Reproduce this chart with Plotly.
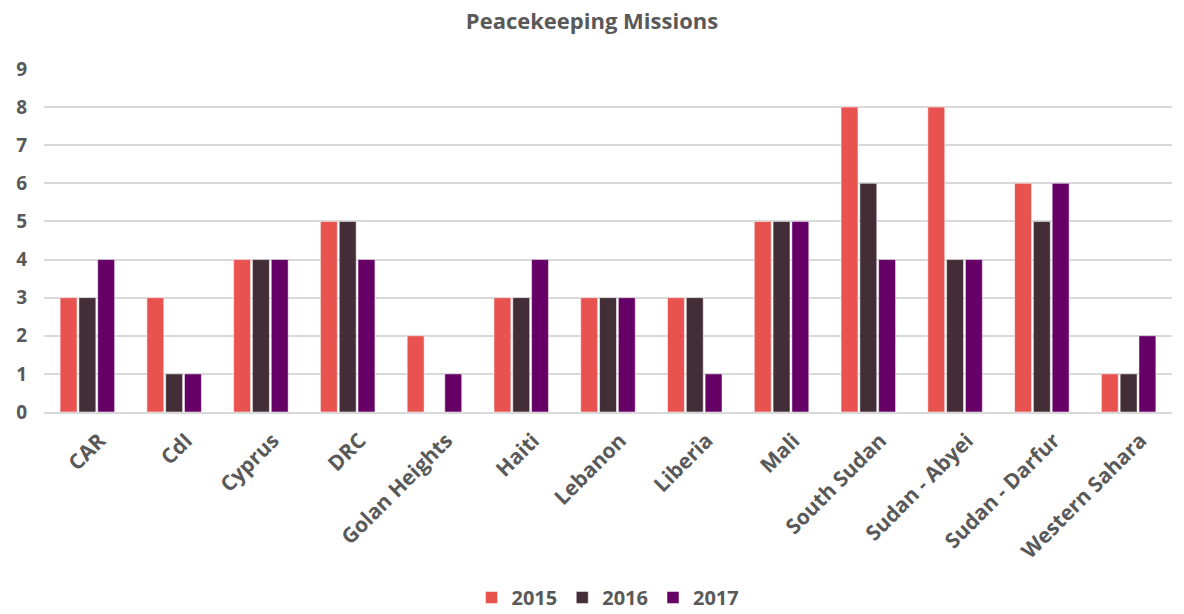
import plotly.graph_objects as go

categories = ["CAR", "CdI", "Cyprus", "DRC", "Golan Heights", "Haiti", "Lebanon",
              "Liberia", "Mali", "South Sudan", "Sudan - Abyei", "Sudan - Darfur",
              "Western Sahara"]
v2015 = [3, 3, 4, 5, 2, 3, 3, 3, 5, 8, 8, 6, 1]
v2016 = [3, 1, 4, 5, 0, 3, 3, 3, 5, 6, 4, 5, 1]
v2017 = [4, 1, 4, 4, 1, 4, 3, 1, 5, 4, 4, 6, 2]
series = [("2015", v2015, "#E8534F"), ("2016", v2016, "#432D36"), ("2017", v2017, "#660066")]

font = "Open Sans"
gray = "#595959"
fig = go.Figure()
for name, vals, col in series:
    fig.add_trace(go.Bar(x=categories, y=vals, name="<b>" + name + "</b>", marker_color=col,
                         marker_line=dict(color="rgba(255,255,255,0.5)", width=1)))

fig.update_layout(
    width=1184, height=614,
    paper_bgcolor="white", plot_bgcolor="white",
    margin=dict(l=44, r=12, t=69, b=202),
    barmode="group", bargap=0.35, bargroupgap=0.1,
    title=dict(text="<b>Peacekeeping Missions</b>", x=0.5, xanchor="center", y=0.978, yanchor="top",
               font=dict(family=font, size=22, color=gray)),
    font=dict(family=font, color=gray),
    xaxis=dict(tickangle=-45, tickfont=dict(family=font, size=21, color=gray),
               showline=True, linecolor="#d9d9d9", linewidth=2, ticks="",
               tickprefix="<b>", ticksuffix="</b>", automargin=False,
               ticklabelshift=12, ticklabelstandoff=6),
    yaxis=dict(range=[0, 9], dtick=1, gridcolor="#d9d9d9", gridwidth=2,
               tickfont=dict(family=font, size=19, color=gray),
               tickprefix="<b>", ticksuffix="</b>", zeroline=False, ticklabelstandoff=16,
               automargin=False),
    legend=dict(orientation="h", x=0.5, xanchor="center", yref="container", y=0.027, yanchor="middle",
                font=dict(family=font, size=20, color=gray),
                itemwidth=30, traceorder="normal"),
)
fig.write_html("out.html", config={"displayModeBar": False},
               post_script="document.body.style.margin='0';document.body.style.overflow='hidden';")
